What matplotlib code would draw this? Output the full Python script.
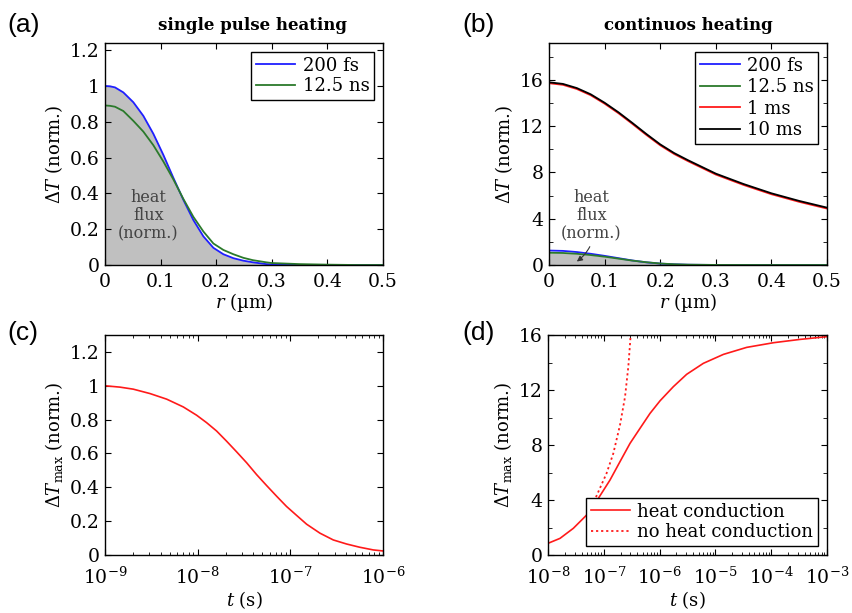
import matplotlib
matplotlib.use("Agg")
import matplotlib.pyplot as plt
import numpy as np
from matplotlib.ticker import FormatStrFormatter, MultipleLocator, FixedLocator, NullFormatter

plt.rcParams['font.family'] = ['DejaVu Serif']
plt.rcParams['mathtext.fontset'] = 'dejavuserif'
plt.rcParams['font.size'] = 13

# ---- data ----
# (a) single pulse heating, radial profiles
r_a = [0, 0.009, 0.018, 0.033, 0.051, 0.069, 0.087, 0.105, 0.123, 0.141, 0.159, 0.177,
       0.195, 0.213, 0.231, 0.249, 0.266, 0.29, 0.3, 0.35, 0.4, 0.45, 0.5]
fs200_a = [1.0, 0.998, 0.992, 0.964, 0.909, 0.833, 0.733, 0.615, 0.487, 0.364, 0.251, 0.16,
           0.096, 0.06, 0.038, 0.024, 0.015, 0.005, 0.003, 0.0, 0.0, 0.0, 0.0]
ns125_a = [0.891, 0.889, 0.884, 0.86, 0.805, 0.745, 0.669, 0.578, 0.478, 0.369, 0.269, 0.187,
           0.12, 0.084, 0.06, 0.04, 0.027, 0.015, 0.011, 0.005, 0.002, 0.0, 0.0]

# (b) continuous heating, radial profiles
r_b = [0, 0.025, 0.05, 0.075, 0.1, 0.125, 0.15, 0.175, 0.2, 0.225, 0.25, 0.3, 0.35, 0.4, 0.45, 0.5]
fs200_b = [1.25, 1.22, 1.12, 0.97, 0.79, 0.59, 0.39, 0.23, 0.12, 0.06, 0.025, 0.004, 0.0, 0.0, 0.0, 0.0]
ns125_b = [1.06, 1.04, 0.97, 0.86, 0.72, 0.55, 0.38, 0.24, 0.13, 0.065, 0.03, 0.006, 0.002, 0.0, 0.0, 0.0]
ms1_b = [15.72, 15.58, 15.22, 14.68, 13.95, 13.12, 12.2, 11.25, 10.35, 9.6, 8.98, 7.82, 6.92, 6.12, 5.46, 4.88]
ms10_b = [15.8, 15.66, 15.3, 14.76, 14.03, 13.2, 12.28, 11.33, 10.43, 9.68, 9.06, 7.9, 7.0, 6.2, 5.54, 4.96]

# (c) max temperature vs time, single pulse
t_c = [1e-9, 1.45e-9, 2.02e-9, 3.06e-9, 4.63e-9, 7.0e-9, 9.75e-9, 1.25e-8, 1.6e-8, 2.05e-8,
       2.63e-8, 3.38e-8, 4.33e-8, 5.56e-8, 7.13e-8, 9.1e-8, 1.17e-7, 1.5e-7, 2.09e-7,
       2.91e-7, 4.05e-7, 5.6e-7, 7.87e-7, 1e-6]
dT_c = [1.0, 0.992, 0.98, 0.954, 0.921, 0.875, 0.826, 0.782, 0.733, 0.673,
        0.61, 0.545, 0.475, 0.41, 0.347, 0.287, 0.234, 0.182, 0.129,
        0.089, 0.065, 0.046, 0.030, 0.024]

# (d) max temperature vs time, continuous heating
t_d = [1e-8, 1.64e-8, 2.84e-8, 4.93e-8, 7.98e-8, 1.29e-7, 1.95e-7, 2.95e-7, 4.45e-7, 6.73e-7,
       1.02e-6, 1.76e-6, 3.05e-6, 6.08e-6, 1.39e-5, 3.63e-5, 1.1e-4, 3.28e-4, 1e-3]
cond_d = [0.85, 1.21, 1.94, 2.91, 4.12, 5.45, 6.79, 8.12, 9.21, 10.3,
          11.22, 12.24, 13.14, 13.94, 14.59, 15.1, 15.44, 15.68, 15.88]
t_nc = [4.93e-8, 6.06e-8, 7.98e-8, 1.12e-7, 1.48e-7, 1.95e-7, 2.4e-7, 2.75e-7, 3.03e-7]
nocond_d = [2.91, 3.5, 4.6, 5.94, 7.39, 9.45, 11.5, 13.7, 16.0]

t_ticks_c = [1e-9, 1e-8, 1e-7, 1e-6]
t_ticks_d = [1e-8, 1e-7, 1e-6, 1e-5, 1e-4, 1e-3]

BLUE = '#1f1fff'
GREEN = '#2b7a2b'
RED = '#ff1a1a'
GRAY = '#c0c0c0'


def style_axes(ax, xpad=6):
    ax.tick_params(which='both', direction='in', top=True, right=True, labelsize=13.5)
    ax.tick_params(axis='x', which='both', pad=xpad)
    ax.tick_params(axis='y', which='both', pad=4)
    ax.tick_params(which='major', length=4)
    ax.tick_params(which='minor', length=2)
    for s in ax.spines.values():
        s.set_linewidth(1.0)


def log_ticks(ax, ticks):
    ax.xaxis.set_major_locator(FixedLocator(ticks))
    minors = [d * k for d in ticks[:-1] for k in range(2, 10)]
    ax.xaxis.set_minor_locator(FixedLocator(minors))
    ax.xaxis.set_minor_formatter(NullFormatter())


def make_legend(ax, loc, hl, sp=0.15):
    leg = ax.legend(loc=loc, fontsize=13, handlelength=hl, borderaxespad=0.5,
                    fancybox=False, edgecolor='black', handletextpad=0.4, labelspacing=sp,
                    borderpad=0.25, framealpha=1)
    leg.get_frame().set_linewidth(1.0)


fig = plt.figure(figsize=(8.52, 6.13), dpi=100)

# (a)
ax = fig.add_axes([0.1232, 0.5677, 0.3263, 0.3622])
ax.fill_between(r_a, 0, fs200_a, color=GRAY, lw=0)
ax.plot(r_a, fs200_a, color=BLUE, lw=1.3, label='200 fs')
ax.plot(r_a, ns125_a, color=GREEN, lw=1.3, label='12.5 ns')
ax.set_xlim(0, 0.5)
ax.set_ylim(0, 1.24)
ax.xaxis.set_major_locator(MultipleLocator(0.1))
ax.yaxis.set_major_locator(MultipleLocator(0.2))
ax.xaxis.set_major_formatter(FormatStrFormatter('%g'))
ax.yaxis.set_major_formatter(FormatStrFormatter('%g'))
ax.set_xlabel(r'$r$ (µm)', labelpad=0)
ax.set_ylabel(r'$\Delta T$ (norm.)', labelpad=3)
ax.set_title('single pulse heating', fontweight='bold', fontsize=12, pad=9, x=0.53)
ax.text(0.078, 0.275, 'heat\nflux\n(norm.)', ha='center', va='center', color='#444444',
        fontsize=11.5, linespacing=1.1)
make_legend(ax, 'upper right', 2.2)
style_axes(ax)

# (b)
ax = fig.add_axes([0.6444, 0.5677, 0.3263, 0.3622])
ax.fill_between(r_b, 0, ns125_b, color=GRAY, lw=0)
ax.plot(r_b, fs200_b, color=BLUE, lw=1.3, label='200 fs')
ax.plot(r_b, ns125_b, color=GREEN, lw=1.3, label='12.5 ns')
ax.plot(r_b, ms1_b, color=RED, lw=1.3, label='1 ms')
ax.plot(r_b, ms10_b, color='black', lw=1.3, label='10 ms')
ax.set_xlim(0, 0.5)
ax.set_ylim(0, 19.2)
ax.xaxis.set_major_locator(MultipleLocator(0.1))
ax.yaxis.set_major_locator(MultipleLocator(4))
ax.yaxis.set_minor_locator(MultipleLocator(2))
ax.xaxis.set_major_formatter(FormatStrFormatter('%g'))
ax.yaxis.set_major_formatter(FormatStrFormatter('%g'))
ax.set_xlabel(r'$r$ (µm)', labelpad=0)
ax.set_ylabel(r'$\Delta T$ (norm.)', labelpad=3)
ax.set_title('continuos heating', fontweight='bold', fontsize=12, pad=9)
ax.annotate('heat\nflux\n(norm.)', xy=(0.05, 0.3), xytext=(0.076, 4.25),
            ha='center', va='center', color='#444444', fontsize=11.5, linespacing=1.1,
            arrowprops=dict(arrowstyle='-|>', color='#333333', lw=0.8, mutation_scale=8,
                            shrinkA=1, shrinkB=0, connectionstyle='arc3,rad=-0.35'))
make_legend(ax, 'upper right', 2.2, sp=0.2)
style_axes(ax)
ax.tick_params(axis='y', which='minor', length=3)

# (c)
ax = fig.add_axes([0.1232, 0.0946, 0.3263, 0.3589])
ax.semilogx(t_c, dT_c, color=RED, lw=1.2)
ax.set_xlim(1e-9, 1e-6)
ax.set_ylim(0, 1.3)
ax.yaxis.set_major_locator(MultipleLocator(0.2))
ax.yaxis.set_major_formatter(FormatStrFormatter('%g'))
log_ticks(ax, t_ticks_c)
ax.set_xlabel(r'$t$ (s)', labelpad=1)
ax.set_ylabel(r'$\Delta T_{\mathregular{max}}$ (norm.)', labelpad=3)
style_axes(ax, xpad=8)

# (d)
ax = fig.add_axes([0.6432, 0.0946, 0.3275, 0.3589])
ax.semilogx(t_d, cond_d, color=RED, lw=1.2, label='heat conduction')
ax.semilogx(t_nc, nocond_d, color=RED, lw=1.3, ls=(0, (1.2, 1.6)), label='no heat conduction')
ax.set_xlim(1e-8, 1e-3)
ax.set_ylim(0, 16)
ax.yaxis.set_major_locator(MultipleLocator(4))
ax.yaxis.set_minor_locator(MultipleLocator(2))
ax.yaxis.set_major_formatter(FormatStrFormatter('%g'))
log_ticks(ax, t_ticks_d)
ax.set_xlabel(r'$t$ (s)', labelpad=1)
ax.set_ylabel(r'$\Delta T_{\mathregular{max}}$ (norm.)', labelpad=3)
make_legend(ax, 'lower right', 2.2)
style_axes(ax, xpad=8)
ax.tick_params(axis='y', which='minor', length=3)

# panel labels
for lab, x, y in [('(a)', 0.009, 0.96), ('(b)', 0.543, 0.96), ('(c)', 0.009, 0.457), ('(d)', 0.543, 0.457)]:
    fig.text(x, y, lab, family='Liberation Sans', fontsize=19, ha='left', va='center')

fig.savefig('out.png', dpi=100)
